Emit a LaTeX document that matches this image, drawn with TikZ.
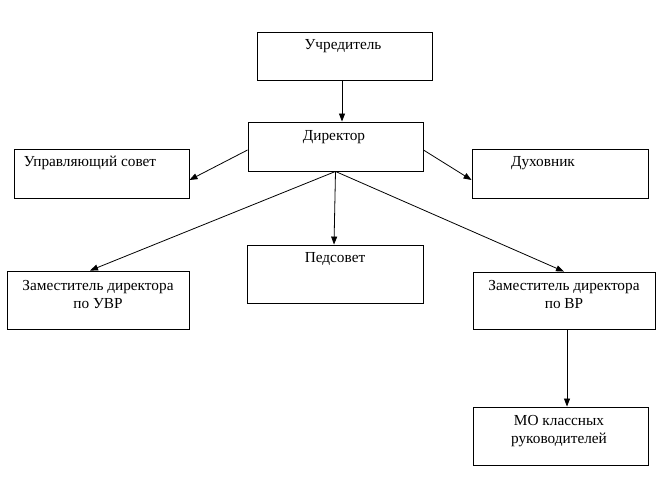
\documentclass[tikz,border=0pt]{standalone}
\usepackage{fontspec}
\setmainfont{Liberation Serif}
\usetikzlibrary{arrows.meta}
\begin{document}
\begin{tikzpicture}[x=1pt,y=-1pt,
  box/.style={draw=black, line width=0.9pt, rectangle, inner sep=0pt},
  txt/.style={anchor=base, inner sep=0pt, align=center, font=\fontsize{15.3}{18}\selectfont},
  arr/.style={line width=0.8pt, -{Triangle[length=8pt,width=6pt]}},
  ln/.style={line width=0.8pt}]
\useasboundingbox (0,0) rectangle (668,479);
\node[box, minimum width=175pt, minimum height=48pt] (uch) at (344.5,56) {};
\node[box, minimum width=175pt, minimum height=49pt] (dir) at (335.5,146.5) {};
\node[box, minimum width=175pt, minimum height=49pt] (sov) at (101.5,173.5) {};
\node[box, minimum width=176pt, minimum height=49pt] (duh) at (560,173.5) {};
\node[box, minimum width=182pt, minimum height=58pt] (uvr) at (98,300) {};
\node[box, minimum width=176pt, minimum height=58pt] (ped) at (335,274) {};
\node[box, minimum width=182pt, minimum height=57pt] (vr) at (564,300.5) {};
\node[box, minimum width=175pt, minimum height=58pt] (mo) at (560.5,436) {};

\node[txt] (tuch) at (343,49) {Учредитель};
\node[txt] (tdir) at (334,140.5) {Директор};
\node[txt] (tsov) at (90,166.5) {Управляющий совет};
\node[txt] (tduh) at (543,166.5) {Духовник};
\node[txt] (tped) at (335,262) {Педсовет};
\node[txt] (tuvr) at (98,308) {Заместитель директора\\по УВР};
\node[txt] (tvr) at (564,308) {Заместитель директора\\по ВР};
\node[txt] (tmo) at (559,443) {МО классных\\руководителей};

\draw[arr] ([xshift=-2.5pt]uch.south) -- ([xshift=6.5pt]dir.north);
\draw[arr] ([yshift=-3.5pt]dir.west) -- ([yshift=-6.5pt]sov.east);
\draw[arr] ([yshift=-3.5pt]dir.east) -- ([yshift=-6.5pt]duh.west);
\draw[arr] (dir.south) -- ([xshift=-8pt]uvr.north);
\draw[arr] (dir.south) -- ([xshift=-1pt]ped.north);
\draw[arr] (dir.south) -- (vr.north);
\draw[arr] ([xshift=3pt]vr.south) -- ([xshift=6.5pt]mo.north);
\end{tikzpicture}
\end{document}
